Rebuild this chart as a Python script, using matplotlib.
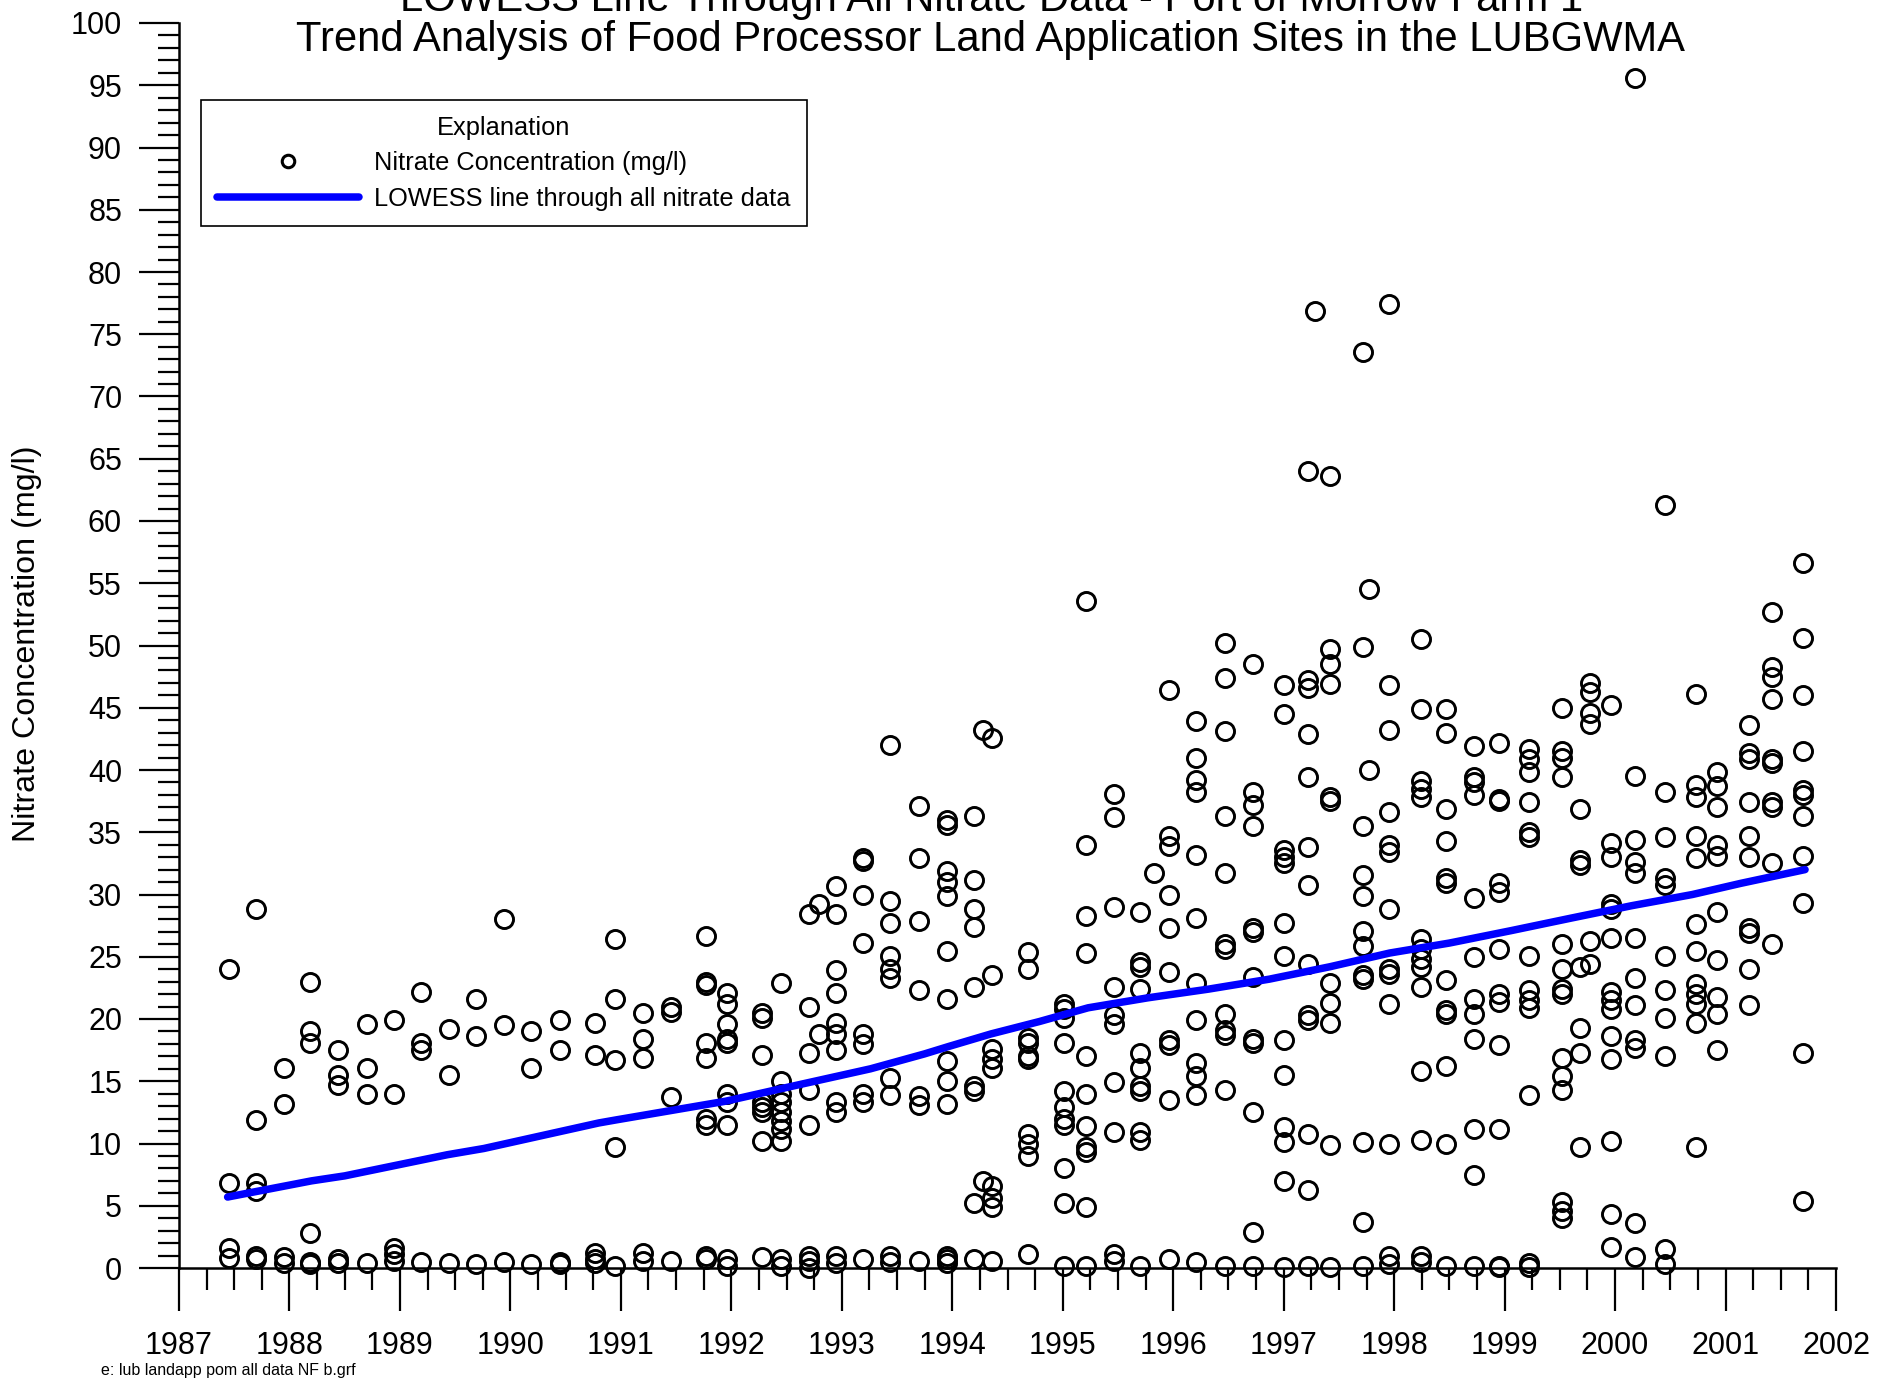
import matplotlib
matplotlib.use("Agg")
import matplotlib.pyplot as plt
from matplotlib.ticker import MultipleLocator

plt.rcParams['font.family'] = ['Liberation Sans', 'DejaVu Sans']

# ---------------- data ----------------
sample_dates = [
    1987.45, 1987.70, 1987.95, 1988.19, 1988.44, 1988.70, 1988.95, 1989.19, 1989.44, 1989.69,
    1989.94, 1990.19, 1990.45, 1990.77, 1990.95, 1991.20, 1991.45, 1991.77, 1991.96, 1992.28,
    1992.45, 1992.70, 1992.79, 1992.95, 1993.19, 1993.44, 1993.70, 1993.95, 1994.20, 1994.28,
    1994.36, 1994.69, 1995.01, 1995.21, 1995.46, 1995.70, 1995.83, 1995.96, 1996.21, 1996.47,
    1996.72, 1997.00, 1997.22, 1997.28, 1997.42, 1997.72, 1997.77, 1997.95, 1998.24, 1998.47,
    1998.72, 1998.95, 1999.22, 1999.52, 1999.68, 1999.77, 1999.96, 2000.18, 2000.45, 2000.73,
    2000.92, 2001.21, 2001.42, 2001.70,
]

nitrate_by_date = [
    [24.0, 6.8, 1.6, 0.8],
    [28.8, 11.9, 6.8, 6.2, 1.0, 0.7],
    [16.1, 13.2, 0.9, 0.4],
    [23.0, 19.0, 18.1, 2.8, 0.5, 0.3],
    [17.5, 15.5, 14.7, 0.7, 0.4],
    [19.6, 16.1, 14.0, 0.4],
    [19.9, 14.0, 1.6, 1.1, 0.6],
    [22.2, 18.1, 17.5, 0.5],
    [19.2, 15.5, 0.4],
    [21.6, 18.6, 0.3],
    [28.0, 19.5, 0.5],
    [19.0, 16.1, 0.3],
    [19.9, 17.5, 0.5, 0.3],
    [19.7, 17.1, 1.2, 0.7, 0.4],
    [26.4, 21.6, 16.7, 9.7, 0.2],
    [20.5, 18.4, 16.9, 1.2, 0.6],
    [21.0, 20.6, 13.7, 0.6],
    [26.7, 23.0, 22.7, 18.1, 16.9, 12.0, 11.5, 1.0, 0.7],
    [22.1, 21.2, 19.6, 18.4, 18.1, 14.0, 13.3, 11.5, 0.7, 0.2],
    [20.5, 20.1, 17.1, 13.3, 12.9, 12.5, 10.2, 0.9],
    [22.9, 15.0, 14.0, 13.3, 12.5, 11.8, 11.2, 10.2, 0.7, 0.2],
    [28.4, 21.0, 17.3, 14.3, 11.5, 1.0, 0.6, 0.0],
    [29.2, 18.8],
    [30.7, 28.4, 23.9, 22.1, 19.7, 18.8, 17.5, 13.3, 12.5, 1.0, 0.4],
    [32.9, 32.7, 30.0, 26.1, 18.8, 18.0, 14.0, 13.3, 0.7],
    [42.0, 29.5, 27.7, 25.1, 24.0, 23.3, 15.3, 13.9, 1.0, 0.5],
    [37.1, 32.9, 27.9, 22.3, 13.8, 13.1, 0.6],
    [36.0, 35.6, 31.9, 31.0, 29.9, 25.5, 21.6, 16.6, 15.0, 13.2, 1.0, 0.7, 0.4],
    [36.3, 31.2, 28.8, 27.4, 22.6, 14.6, 14.2, 5.2, 0.7],
    [43.2, 7.0],
    [42.6, 23.5, 17.6, 16.8, 16.1, 6.6, 5.6, 4.9, 0.6],
    [25.4, 24.0, 18.5, 18.1, 17.0, 16.8, 10.8, 10.0, 9.0, 1.1],
    [21.2, 20.8, 20.1, 18.1, 14.2, 12.9, 12.0, 11.5, 8.0, 5.2, 0.2],
    [53.6, 34.0, 28.3, 25.3, 17.0, 14.0, 11.4, 9.7, 9.3, 4.9, 0.2],
    [38.1, 36.2, 29.0, 22.6, 20.3, 19.6, 14.9, 10.9, 1.1, 0.6],
    [28.6, 24.6, 24.2, 22.4, 17.3, 16.1, 14.6, 14.2, 10.9, 10.3, 0.2],
    [31.7],
    [46.4, 34.7, 33.9, 30.0, 27.3, 23.8, 18.3, 17.9, 13.5, 0.7],
    [43.9, 41.0, 39.2, 38.2, 33.2, 28.1, 22.9, 19.9, 16.5, 15.4, 13.9, 0.5],
    [50.2, 47.4, 43.1, 36.3, 31.7, 26.0, 25.6, 20.4, 19.1, 18.7, 14.3, 0.2],
    [48.5, 38.2, 37.2, 35.5, 27.3, 27.0, 23.4, 18.4, 18.1, 12.5, 2.9, 0.2],
    [46.8, 44.5, 33.6, 33.0, 32.5, 27.7, 25.1, 18.3, 15.5, 11.3, 10.1, 7.0, 0.1],
    [64.0, 47.2, 46.6, 42.9, 39.4, 33.8, 30.8, 24.4, 20.3, 19.9, 10.8, 6.3, 0.2],
    [76.9],
    [63.6, 49.7, 48.5, 46.9, 37.8, 37.5, 22.9, 21.3, 19.7, 9.9, 0.1],
    [73.6, 49.9, 35.5, 31.6, 29.9, 27.1, 25.9, 23.5, 23.2, 10.1, 3.7, 0.2],
    [54.5, 40.0],
    [77.4, 46.8, 43.2, 36.6, 34.0, 33.4, 28.8, 24.0, 23.6, 21.2, 10.0, 1.0, 0.3],
    [50.5, 44.9, 39.1, 38.5, 37.8, 26.4, 25.6, 24.8, 24.2, 22.6, 15.8, 10.3, 1.0, 0.5],
    [44.9, 43.0, 36.9, 34.3, 31.3, 30.9, 23.1, 20.7, 20.4, 16.2, 10.0, 0.2],
    [41.9, 39.4, 39.0, 38.0, 29.7, 25.0, 21.6, 20.4, 18.4, 11.2, 7.5, 0.2],
    [42.2, 37.7, 37.5, 30.9, 30.2, 25.6, 22.0, 21.4, 17.9, 11.2, 0.2, 0.1],
    [41.7, 40.9, 39.8, 37.4, 35.0, 34.6, 25.1, 22.3, 21.5, 20.9, 13.9, 0.4, 0.1],
    [45.0, 41.5, 41.0, 39.4, 26.0, 24.0, 22.4, 22.0, 16.9, 15.4, 14.3, 5.3, 4.6, 4.0],
    [36.9, 32.8, 32.4, 24.2, 19.3, 17.3, 9.7],
    [47.0, 46.3, 44.6, 43.7, 26.3, 24.4],
    [45.2, 34.1, 33.0, 29.2, 28.8, 26.5, 22.2, 21.5, 20.8, 18.6, 16.8, 10.2, 4.3, 1.7],
    [95.6, 39.5, 34.4, 32.6, 31.7, 26.5, 23.3, 21.1, 18.3, 17.7, 3.6, 0.9],
    [61.3, 38.2, 34.6, 31.3, 30.8, 25.1, 22.3, 20.1, 17.0, 1.5, 0.3],
    [46.1, 38.8, 37.8, 34.7, 32.9, 27.6, 25.5, 22.8, 22.0, 21.2, 19.7, 9.7],
    [39.8, 38.7, 37.0, 34.0, 33.1, 28.6, 24.7, 21.8, 20.4, 17.5],
    [43.6, 41.4, 40.9, 37.4, 34.7, 33.0, 27.3, 26.9, 24.0, 21.1],
    [52.7, 48.3, 47.5, 45.7, 40.9, 40.6, 37.4, 37.0, 32.5, 26.0],
    [56.6, 50.6, 46.0, 41.5, 38.4, 38.0, 36.3, 33.1, 29.3, 17.3, 5.4],
]

lowess_dates = [1987.44, 1988.2, 1988.5, 1989.43, 1989.76, 1990.8, 1990.96, 1991.95, 1992.5,
                1993.26, 1993.75, 1993.97, 1994.35, 1994.79, 1995.23, 1995.77, 1996.32, 1996.87,
                1997.42, 1997.96, 1998.5, 1999.06, 1999.6, 2000.15, 2000.7, 2001.14, 2001.72]
lowess_values = [5.7, 7.0, 7.4, 9.1, 9.6, 11.65, 11.9, 13.4, 14.5, 16.0, 17.2, 17.8, 18.8, 19.8,
                 20.9, 21.7, 22.4, 23.2, 24.2, 25.3, 26.1, 27.1, 28.1, 29.1, 30.0, 30.9, 32.0]

year_ticks = list(range(1987, 2003))
conc_ticks = list(range(0, 101, 5))

title_line1 = "LOWESS Line Through All Nitrate Data - Port of Morrow Farm 1"
title_line2 = "Trend Analysis of Food Processor Land Application Sites in the LUBGWMA"
y_label = "Nitrate Concentration (mg/l)"
footnote = "e: lub landapp pom all data NF b.grf"
legend_title = "Explanation"
legend_labels = ["Nitrate Concentration (mg/l)", "LOWESS line through all nitrate data"]

# ---------------- figure ----------------
W, H = 1895, 1379
fig = plt.figure(figsize=(W / 100, H / 100), dpi=100)
ax = fig.add_axes([179 / W, 1 - 1268 / H, (1836 - 179) / W, (1268 - 23) / H])

xs, ys = [], []
for d, vals in zip(sample_dates, nitrate_by_date):
    for v in vals:
        xs.append(d)
        ys.append(v)

pts, = ax.plot(xs, ys, linestyle='none', marker='o', markersize=13,
               markerfacecolor='none', markeredgecolor='black', markeredgewidth=2.1,
               clip_on=False, zorder=3, label=legend_labels[0])
ln, = ax.plot(lowess_dates, lowess_values, color='#0000ff', linewidth=5.4,
              solid_capstyle='round', zorder=4, label=legend_labels[1])

ax.set_xlim(1987, 2002)
ax.set_ylim(0, 100)
ax.set_xticks(year_ticks)
ax.set_yticks(conc_ticks)
ax.xaxis.set_minor_locator(MultipleLocator(0.25))
ax.yaxis.set_minor_locator(MultipleLocator(1))

for s in ['top', 'right']:
    ax.spines[s].set_visible(False)
for s in ['left', 'bottom']:
    ax.spines[s].set_linewidth(1.8)

ax.tick_params(axis='x', which='major', direction='out', length=31, width=1.6,
               labelsize=22, pad=14)
ax.tick_params(axis='x', which='minor', direction='out', length=16, width=1.6)
ax.tick_params(axis='y', which='major', direction='out', length=29, width=1.6,
               labelsize=22, pad=12)
ax.tick_params(axis='y', which='minor', direction='out', length=15, width=1.6)

# legend
leg = ax.legend(handles=[pts, ln], labels=legend_labels, title=legend_title,
                loc='upper left', bbox_to_anchor=(201 / W, 1 - 100 / H),
                bbox_transform=fig.transFigure, borderaxespad=0,
                fontsize=18.3, title_fontsize=18.3, frameon=True, fancybox=False,
                edgecolor='black', framealpha=1, numpoints=1,
                handlelength=5.6, handletextpad=0.6, borderpad=0.62, labelspacing=0.45)
leg.get_frame().set_linewidth(1.2)
leg.legend_handles[0].set_markersize(9)
leg.legend_handles[0].set_markeredgewidth(2.2)

# texts
t1 = fig.text(992 / W, 1 - 11 / H, title_line1, ha='center', va='baseline', fontsize=24)
t2 = fig.text(991 / W, 1 - 51 / H, title_line2, ha='center', va='baseline', fontsize=24)
yl = fig.text(27 / W, 1 - 644 / H, y_label, ha='center', va='center', rotation=90, fontsize=22)
fn = fig.text(101 / W, 1 - 1371 / H, footnote, ha='left', va='center', fontsize=11)

fig.canvas.draw()
r = fig.canvas.get_renderer()
def fit(t, target, use_height=False):
    bb = t.get_window_extent(r)
    cur = bb.height if use_height else bb.width
    t.set_fontsize(t.get_fontsize() * target / cur)

fit(t1, 1183)
fit(t2, 1389)
fit(yl, 395, use_height=True)
fit(fn, 253)

fig.savefig("out.png", dpi=100)
